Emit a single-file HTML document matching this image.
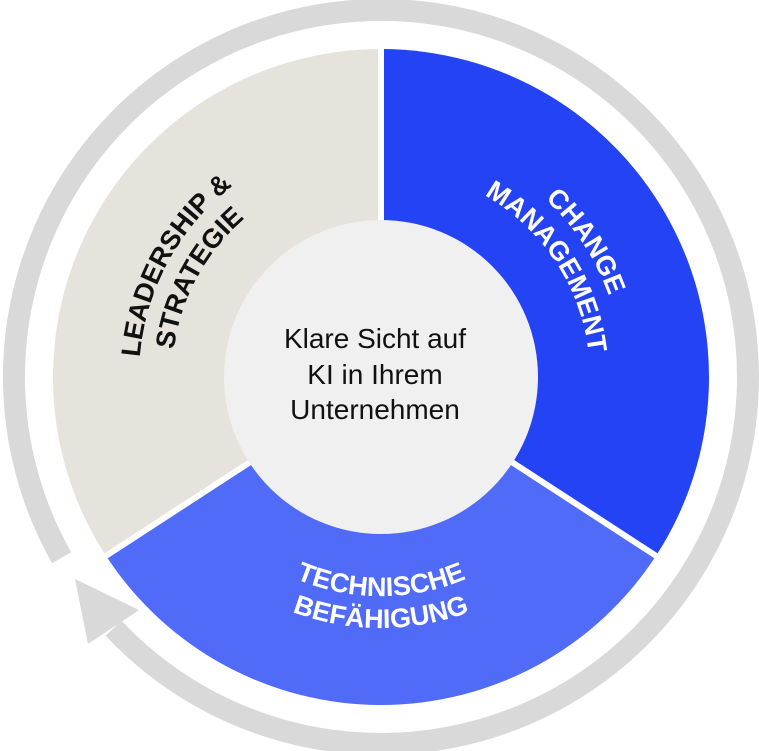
<!DOCTYPE html>
<html><head><meta charset="utf-8"><style>
html,body{margin:0;padding:0;background:#fff;}
svg{display:block;}
</style></head><body>
<svg width="759" height="751" viewBox="0 0 759 751" xmlns="http://www.w3.org/2000/svg">
<!-- ring -->
<path d="M61.6,557.7 A367,367 0 1 1 113.5,628.2" fill="none" stroke="#d9d9d9" stroke-width="22"/>
<polygon points="75,579 139,610 88,644" fill="#d9d9d9"/>
<!-- segments -->
<path d="M381,377 L105.9,555.6 A328,328 0 0 1 381,49 Z" fill="#e6e2dc"/>
<path d="M381,377 L381,49 A328,328 0 0 1 656.1,555.6 Z" fill="#2443f5"/>
<path d="M381,377 L656.1,555.6 A328,328 0 0 1 105.9,555.6 Z" fill="#4f6bf7"/>
<!-- gaps -->
<g stroke="#fff" stroke-width="6">
<line x1="381" y1="377" x2="381" y2="40"/>
<line x1="381" y1="377" x2="664" y2="561"/>
<line x1="381" y1="377" x2="98" y2="561"/>
</g>
<circle cx="381" cy="377" r="157" fill="#f0f0f0"/>
<defs>
<path id="c242" d="M139,377 A242,242 0 1 1 623,377 A242,242 0 1 1 139,377"/>
<path id="c209" d="M172,377 A209,209 0 1 1 590,377 A209,209 0 1 1 172,377"/>
<path id="b219" d="M600,377 A219,219 0 1 0 162,377 A219,219 0 1 0 600,377"/>
<path id="b251" d="M632,377 A251,251 0 1 0 130,377 A251,251 0 1 0 632,377"/>
</defs>
<g font-family="Liberation Sans, Arial, sans-serif" font-weight="bold" font-size="27" text-anchor="middle">
<text fill="#111"><textPath href="#c242" startOffset="7.9%">LEADERSHIP &amp;</textPath></text>
<text fill="#111"><textPath href="#c209" startOffset="7.9%">STRATEGIE</textPath></text>
<text fill="#fff"><textPath href="#c242" startOffset="40.7%">CHANGE</textPath></text>
<text fill="#fff"><textPath href="#c209" startOffset="40.7%">MANAGEMENT</textPath></text>
<text fill="#fff"><textPath href="#b219" startOffset="75%">TECHNISCHE</textPath></text>
<text fill="#fff"><textPath href="#b251" startOffset="75%">BEFÄHIGUNG</textPath></text>
</g>
<g font-family="Liberation Sans, Arial, sans-serif" font-size="28" fill="#111" text-anchor="middle">
<text x="375" y="348">Klare Sicht auf</text>
<text x="375" y="384">KI in Ihrem</text>
<text x="375" y="419">Unternehmen</text>
</g>
</svg>
</body></html>
